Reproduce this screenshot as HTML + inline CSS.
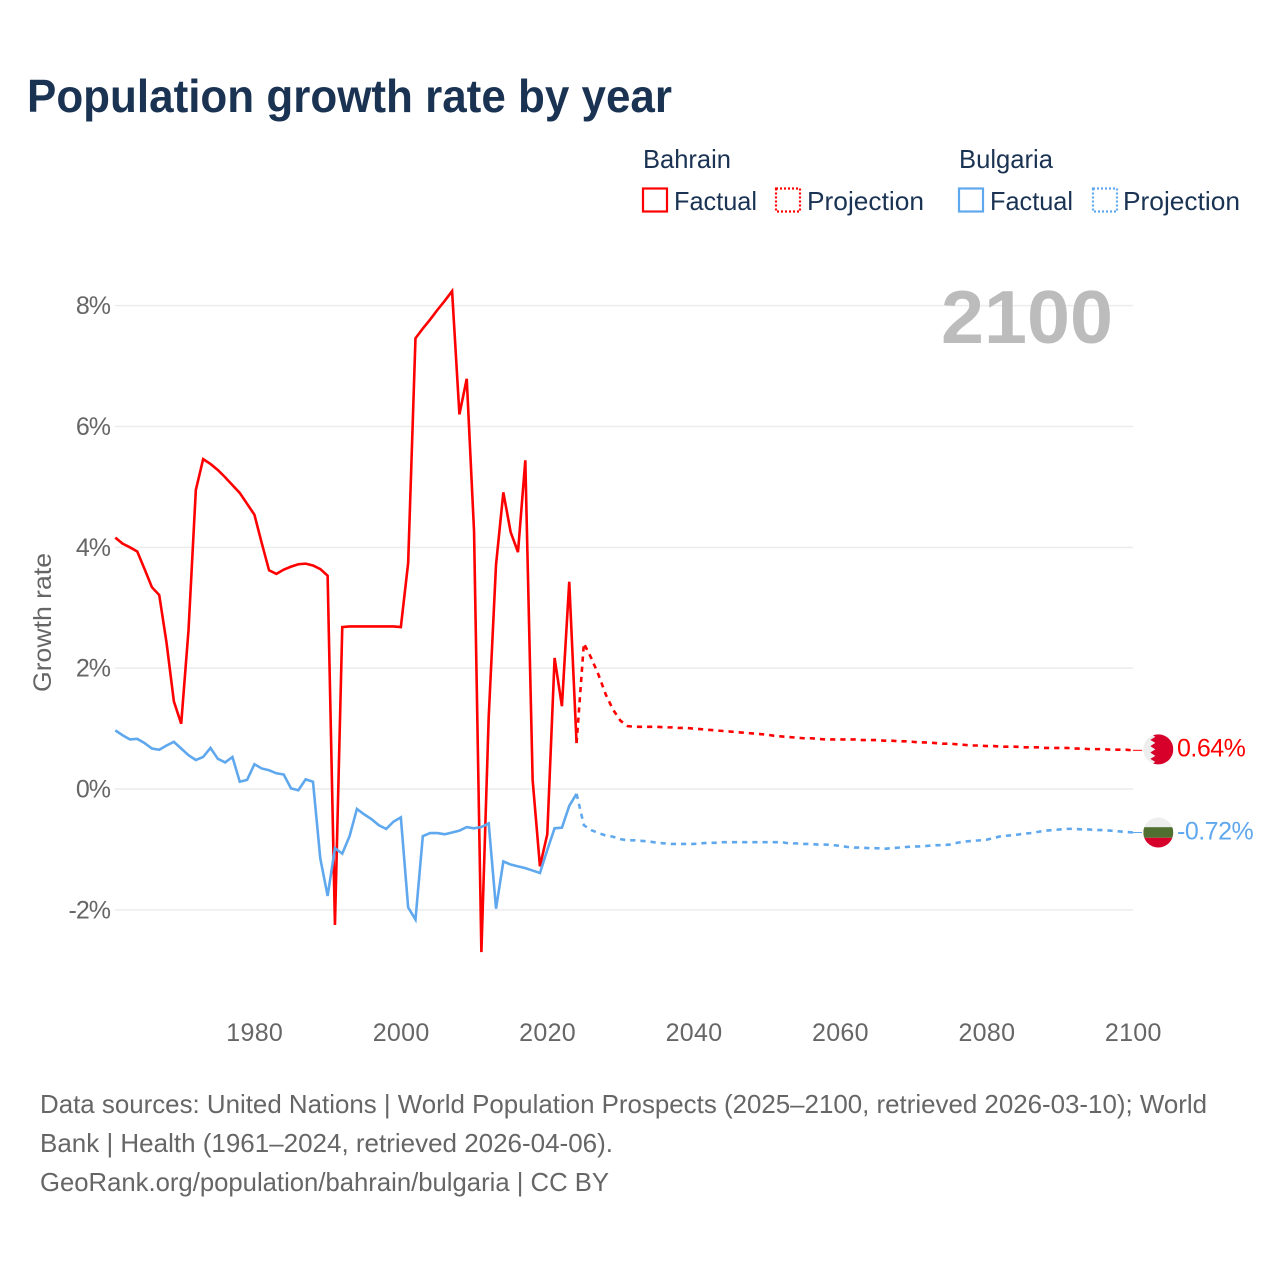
<!DOCTYPE html>
<html lang="en">
<head>
<meta charset="utf-8">
<title>Population growth rate by year</title>
<style>
html,body{margin:0;padding:0;background:#fff;}
svg{display:block;}
text{font-family:"Liberation Sans",sans-serif;}
</style>
</head>
<body>
<svg id="chart" xmlns="http://www.w3.org/2000/svg" width="1280" height="1280" viewBox="0 0 1280 1280">
  <rect x="0" y="0" width="1280" height="1280" fill="#fff"/>
  <text x="27" y="112" font-size="46" font-weight="700" fill="#1a3353" textLength="645" lengthAdjust="spacingAndGlyphs">Population growth rate by year</text>

  <g font-size="26" fill="#1a3353">
    <text x="643" y="168" textLength="88" lengthAdjust="spacingAndGlyphs">Bahrain</text>
    <text x="959" y="168" textLength="94" lengthAdjust="spacingAndGlyphs">Bulgaria</text>
    <g>
      <rect x="643" y="188.5" width="24" height="23" fill="none" stroke="#ff0000" stroke-width="2.2"/>
      <text x="674" y="210" textLength="83" lengthAdjust="spacingAndGlyphs">Factual</text>
    </g>
    <g>
      <rect x="776" y="188.5" width="24" height="23" fill="none" stroke="#ff0000" stroke-width="2.2" stroke-dasharray="2 2"/>
      <text x="807" y="210" textLength="117" lengthAdjust="spacingAndGlyphs">Projection</text>
    </g>
    <g>
      <rect x="959" y="188.5" width="24" height="23" fill="none" stroke="#5fa8ee" stroke-width="2.2"/>
      <text x="990" y="210" textLength="83" lengthAdjust="spacingAndGlyphs">Factual</text>
    </g>
    <g>
      <rect x="1093" y="188.5" width="24" height="23" fill="none" stroke="#5fa8ee" stroke-width="2.2" stroke-dasharray="2 2"/>
      <text x="1123" y="210" textLength="117" lengthAdjust="spacingAndGlyphs">Projection</text>
    </g>
  </g>

  <g id="grid"></g>
  <g id="yticks" font-size="25" fill="#666" text-anchor="end" letter-spacing="-1"></g>
  <g id="xticks" font-size="25" fill="#666" text-anchor="middle" letter-spacing="0.3"></g>
  <text transform="translate(51 692) rotate(-90)" font-size="25" fill="#666" textLength="139" lengthAdjust="spacingAndGlyphs">Growth rate</text>
  <text x="941" y="343" font-size="75" font-weight="700" fill="#bcbcbc" textLength="172" lengthAdjust="spacingAndGlyphs">2100</text>

  <g id="series"></g>

  <defs>
    <clipPath id="flag-clip"><circle cx="0" cy="0" r="15"/></clipPath>
  </defs>
  <g id="flag-bahrain" clip-path="url(#flag-clip)">
    <rect x="-15" y="-15" width="30" height="30" fill="#eeeeee"/>
    <polygon fill="#d7002b" points="15,-16 -8,-16 -3,-12.5 -8,-9.5 -3,-6.5 -8,-3.2 -3,0 -8,3.2 -3,6.5 -8,9.5 -3,12.5 -8,16 15,16"/>
  </g>
  <g id="flag-bulgaria" clip-path="url(#flag-clip)">
    <rect x="-15" y="-16" width="30" height="11" fill="#eeeeee"/>
    <rect x="-15" y="-5.3" width="30" height="10.6" fill="#4f7030"/>
    <rect x="-15" y="5.3" width="30" height="11" fill="#d7002b"/>
  </g>
  <g id="endlabels" font-size="25" letter-spacing="-0.5"></g>

  <g font-size="26" fill="#666">
    <text x="40" y="1113" textLength="1167" lengthAdjust="spacingAndGlyphs">Data sources: United Nations | World Population Prospects (2025–2100, retrieved 2026-03-10); World</text>
    <text x="40" y="1152" textLength="573" lengthAdjust="spacingAndGlyphs">Bank | Health (1961–2024, retrieved 2026-04-06).</text>
    <text x="40" y="1191" textLength="569" lengthAdjust="spacingAndGlyphs">GeoRank.org/population/bahrain/bulgaria | CC BY</text>
  </g>
</svg>
<script>
const firstYear = 1961;
const xTickYears = [1980, 2000, 2020, 2040, 2060, 2080, 2100];
const yTickValues = [8, 6, 4, 2, 0, -2];

const bahrainFactual = [
  4.16,4.06,4.0,3.93,3.64,3.34,3.21,2.42,1.45,1.08,
  2.63,4.95,5.46,5.38,5.28,5.16,5.03,4.9,4.72,4.54,
  4.07,3.62,3.56,3.63,3.68,3.72,3.73,3.7,3.64,3.53,
  -2.25,2.68,2.69,2.69,2.69,2.69,2.69,2.69,2.69,2.68,
  3.74,7.46,7.62,7.77,7.93,8.08,8.24,6.2,6.79,4.26,
  -2.7,1.19,3.71,4.91,4.25,3.92,5.44,0.15,-1.28,-0.75,
  2.17,1.37,3.43,0.76
];
const bulgariaFactual = [
  0.97,0.89,0.82,0.83,0.76,0.67,0.65,0.72,0.78,0.67,
  0.56,0.48,0.53,0.68,0.5,0.44,0.53,0.12,0.15,0.41,
  0.34,0.31,0.26,0.24,0.01,-0.02,0.16,0.12,-1.15,-1.77,
  -0.98,-1.07,-0.78,-0.33,-0.42,-0.5,-0.6,-0.66,-0.54,-0.47,
  -1.96,-2.16,-0.78,-0.73,-0.73,-0.75,-0.72,-0.69,-0.63,-0.65,
  -0.63,-0.57,-1.98,-1.2,-1.25,-1.28,-1.31,-1.35,-1.39,-1.01,
  -0.65,-0.64,-0.28,-0.08
];
const bahrainProjection = [
  2.41,2.17,1.89,1.56,1.31,1.13,1.04,1.03,1.03,1.03,
  1.03,1.02,1.02,1.01,1.01,1.0,0.99,0.98,0.97,0.96,
  0.95,0.94,0.93,0.92,0.91,0.9,0.88,0.87,0.86,0.85,
  0.84,0.84,0.83,0.82,0.82,0.82,0.82,0.82,0.81,0.81,
  0.81,0.8,0.8,0.79,0.79,0.78,0.77,0.77,0.76,0.75,
  0.75,0.74,0.73,0.72,0.72,0.71,0.71,0.7,0.7,0.7,
  0.69,0.69,0.69,0.68,0.68,0.68,0.68,0.67,0.67,0.66,
  0.66,0.66,0.65,0.65,0.65,0.64
];
const bulgariaProjection = [
  -0.6,-0.68,-0.73,-0.77,-0.79,-0.83,-0.85,-0.85,-0.86,-0.87,
  -0.89,-0.9,-0.91,-0.91,-0.91,-0.91,-0.9,-0.89,-0.89,-0.88,
  -0.88,-0.88,-0.88,-0.88,-0.88,-0.88,-0.88,-0.88,-0.9,-0.9,
  -0.91,-0.91,-0.92,-0.92,-0.93,-0.94,-0.96,-0.97,-0.97,-0.98,
  -0.98,-0.99,-0.98,-0.97,-0.96,-0.95,-0.95,-0.94,-0.93,-0.93,
  -0.92,-0.89,-0.87,-0.86,-0.85,-0.84,-0.81,-0.78,-0.77,-0.76,
  -0.74,-0.73,-0.71,-0.69,-0.68,-0.67,-0.66,-0.66,-0.67,-0.67,
  -0.68,-0.68,-0.69,-0.7,-0.71,-0.72
];

const SVGNS = 'http://www.w3.org/2000/svg';
const plotLeft = 115.3, plotRight = 1133;
const RED = '#ff0000', BLUE = '#5fa8ee';

function xScale(year) {
  return plotLeft + (year - firstYear) * (plotRight - plotLeft) / (2100 - firstYear);
}
function yScale(value) {
  return 789 - value * 60.42;
}
function make(tag, attrs, parent) {
  const el = document.createElementNS(SVGNS, tag);
  for (const k in attrs) el.setAttribute(k, attrs[k]);
  parent.appendChild(el);
  return el;
}
function linePath(values, startYear) {
  return values.map((v, i) => (i ? 'L' : 'M') + xScale(startYear + i).toFixed(2) + ' ' + yScale(v).toFixed(2)).join('');
}

const grid = document.getElementById('grid');
const yticks = document.getElementById('yticks');
yTickValues.forEach(v => {
  const line = make('line', {x1: plotLeft - 0.5, x2: plotRight, y1: yScale(v), y2: yScale(v), stroke: '#ececec', 'stroke-width': 1.5}, grid);
  
  
  const t = make('text', {x: 110, y: yScale(v) + 8.5}, yticks);
  t.textContent = v + '%';
  
  
});

const xticks = document.getElementById('xticks');
xTickYears.forEach(y => {
  const t = make('text', {x: xScale(y) + 0.3, y: 1041}, xticks);
  t.textContent = y;
  
  
});

const series = document.getElementById('series');
const bahrainFactualEnd = firstYear + bahrainFactual.length - 1;
const bulgariaFactualEnd = firstYear + bulgariaFactual.length - 1;

const redFact = make('path', {d: linePath(bahrainFactual, firstYear), fill: 'none', stroke: RED, 'stroke-width': 2.6, 'stroke-linejoin': 'miter'}, series);



const redProj = make('path', {d: linePath([bahrainFactual[bahrainFactual.length - 1]].concat(bahrainProjection), bahrainFactualEnd), fill: 'none', stroke: RED, 'stroke-width': 2.6, 'stroke-dasharray': '5.2 5'}, series);



const blueFact = make('path', {d: linePath(bulgariaFactual, firstYear), fill: 'none', stroke: BLUE, 'stroke-width': 2.6, 'stroke-linejoin': 'miter'}, series);



const blueProj = make('path', {d: linePath([bulgariaFactual[bulgariaFactual.length - 1]].concat(bulgariaProjection), bulgariaFactualEnd), fill: 'none', stroke: BLUE, 'stroke-width': 2.6, 'stroke-dasharray': '5.2 5'}, series);



const endLabels = document.getElementById('endlabels');
const redLast = bahrainProjection[bahrainProjection.length - 1];
const blueLast = bulgariaProjection[bulgariaProjection.length - 1];

const redConn = make('line', {x1: plotRight, x2: plotRight + 9, y1: yScale(redLast), y2: yScale(redLast), stroke: RED, 'stroke-width': 1}, series);


const blueConn = make('line', {x1: plotRight, x2: plotRight + 9, y1: yScale(blueLast), y2: yScale(blueLast), stroke: BLUE, 'stroke-width': 1}, series);



document.getElementById('flag-bahrain').setAttribute('transform', 'translate(1158.3 ' + (yScale(redLast) - 1) + ')');
document.getElementById('flag-bulgaria').setAttribute('transform', 'translate(1158.3 ' + yScale(blueLast) + ')');

const redLabel = make('text', {x: 1177, y: yScale(redLast) + 6, fill: RED}, endLabels);
redLabel.textContent = redLast.toFixed(2) + '%';


const blueLabel = make('text', {x: 1177, y: yScale(blueLast) + 7, fill: BLUE}, endLabels);
blueLabel.textContent = blueLast.toFixed(2) + '%';


</script>
</body>
</html>
